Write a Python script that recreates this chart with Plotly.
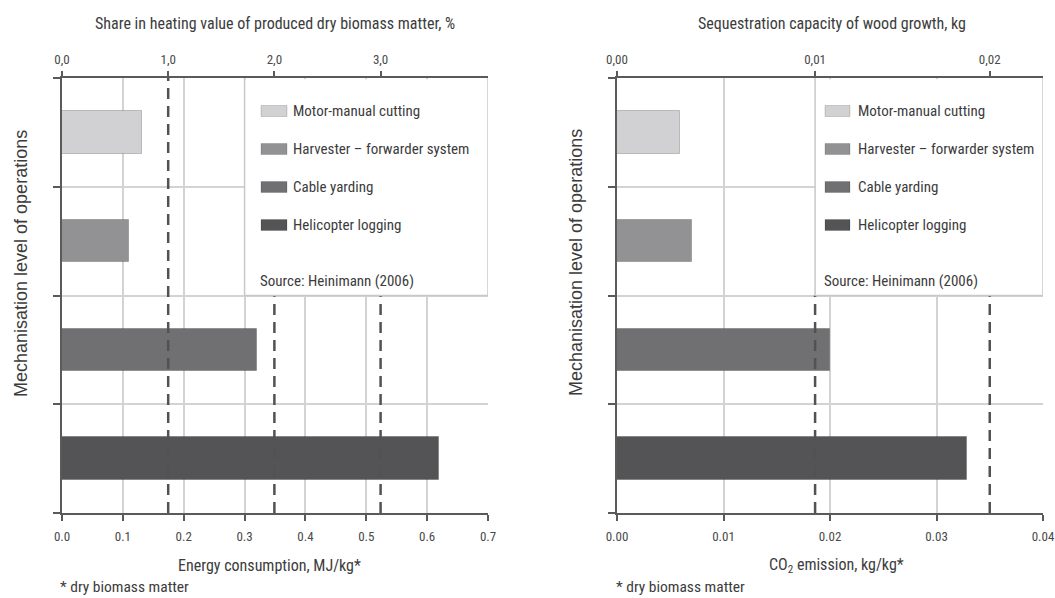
import plotly.graph_objects as go

# ---- data -------------------------------------------------------------
levels = [
    "Motor-manual cutting",
    "Harvester – forwarder system",
    "Cable yarding",
    "Helicopter logging",
]
energy_mj_per_kg = [0.131, 0.110, 0.320, 0.619]        # MJ per kg dry biomass
co2_kg_per_kg = [0.0059, 0.0070, 0.0200, 0.0329]       # kg CO2 per kg dry biomass
bar_colors = ["#d1d1d3", "#929294", "#707072", "#545456"]

# top axis of the energy panel: share of the heating value (%)
share_ticks_pct = [0, 1, 2, 3]
share_tick_text = ["0,0", "1,0", "2,0", "3,0"]
mj_per_share_pct = 0.1745                               # 1 % of heating value, MJ/kg

# top axis of the CO2 panel: sequestration capacity of wood growth (kg)
seq_tick_text = ["0,00", "0,01", "0,02"]
seq_tick_pos_co2 = [0.0, 0.0186, 0.0350]                # same points on the CO2 scale

energy_range = [0, 0.7]
co2_range = [0, 0.04]

# ---- styling ----------------------------------------------------------
W, H = 1055, 598
FONT = "Roboto Condensed, Liberation Sans Narrow, Arial Narrow, Roboto, sans-serif"
WIDE_FONT = "Liberation Sans, Arial, sans-serif"
TXT = "#3c3c3c"
AXIS = "#5a5a5a"
GRID = "#d3d3d3"
DASH = "#525252"


def px(x):
    return x / W


def py(y):
    return 1 - y / H


n = len(levels)
ypos = [n - 1 - i for i in range(n)]
y_bounds = [k - 0.5 for k in range(n + 1)]

fig = go.Figure()

fig.add_trace(go.Bar(
    x=energy_mj_per_kg, y=ypos, orientation="h", width=0.39,
    marker=dict(color=bar_colors, line=dict(color="rgba(0,0,0,0.2)", width=1)),
    xaxis="x", yaxis="y", showlegend=False, hoverinfo="x",
))
fig.add_trace(go.Bar(
    x=co2_kg_per_kg, y=ypos, orientation="h", width=0.39,
    marker=dict(color=bar_colors, line=dict(color="rgba(0,0,0,0.2)", width=1)),
    xaxis="x2", yaxis="y2", showlegend=False, hoverinfo="x",
))
# invisible carriers so the secondary (top) axes get drawn
fig.add_trace(go.Scatter(x=[0], y=[0], mode="markers", marker=dict(opacity=0),
                         xaxis="x3", yaxis="y", showlegend=False, hoverinfo="skip"))
fig.add_trace(go.Scatter(x=[0], y=[0], mode="markers", marker=dict(opacity=0),
                         xaxis="x4", yaxis="y2", showlegend=False, hoverinfo="skip"))

ydom = [py(513), py(78)]
xdom1 = [px(62), px(488)]
xdom2 = [px(617), px(1043)]

common_x = dict(
    showline=True, linecolor=AXIS, linewidth=2, mirror=False, automargin=False,
    ticks="outside", ticklen=6, tickwidth=1.5, tickcolor=AXIS,
    showgrid=True, gridcolor=GRID, gridwidth=1.5, zeroline=False,
    tickfont=dict(family=FONT, size=13, color="#4a4a4a"),
    ticklabelstandoff=4, fixedrange=True,
)
common_y = dict(
    showline=True, linecolor=AXIS, linewidth=2, automargin=False,
    ticks="outside", ticklen=7, tickwidth=1.5, tickcolor=AXIS,
    showgrid=True, gridcolor=GRID, gridwidth=1.5, zeroline=False,
    tickmode="array", tickvals=y_bounds, showticklabels=False,
    range=[-0.5, n - 0.5], fixedrange=True,
)
top_common = dict(
    showline=True, linecolor=AXIS, linewidth=2, side="top", automargin=False,
    ticks="outside", ticklen=5, tickwidth=1.5, tickcolor=AXIS,
    showgrid=False, zeroline=False, tickmode="array",
    tickfont=dict(family=FONT, size=13, color="#4a4a4a"),
    ticklabelstandoff=2, fixedrange=True,
)

fig.update_layout(
    width=W, height=H,
    margin=dict(l=0, r=0, t=0, b=0, autoexpand=False),
    paper_bgcolor="white", plot_bgcolor="white",
    font=dict(family=FONT, color=TXT),
    bargap=0,
    xaxis=dict(domain=xdom1, anchor="y", range=energy_range, dtick=0.1,
               tickformat=".1f", **common_x),
    yaxis=dict(domain=ydom, anchor="x", **common_y),
    xaxis2=dict(domain=xdom2, anchor="y2", range=co2_range, dtick=0.01,
                tickformat=".2f", **common_x),
    yaxis2=dict(domain=ydom, anchor="x2", **common_y),
    xaxis3=dict(overlaying="x", anchor="y", range=energy_range,
                tickvals=[p * mj_per_share_pct for p in share_ticks_pct],
                ticktext=share_tick_text, **top_common),
    xaxis4=dict(overlaying="x2", anchor="y2", range=co2_range,
                tickvals=seq_tick_pos_co2, ticktext=seq_tick_text, **top_common),
)

# legend panels: (x axis, y axis, left edge, right edge) in data units
legend_boxes = [("x", "y", 0.3, energy_range[1]),
                ("x2", "y2", seq_tick_pos_co2[1], co2_range[1])]
box_bottom = 1.5

shapes = []
# dashed reference lines at the top-axis ticks, hidden behind the legend panel
dash_sets = [("x", "y", [p * mj_per_share_pct for p in share_ticks_pct[1:]], legend_boxes[0][2]),
             ("x2", "y2", seq_tick_pos_co2[1:], legend_boxes[1][2])]
for xr, yr, xs, bx0 in dash_sets:
    for xv in xs:
        top = box_bottom if xv >= bx0 - 1e-9 else n - 0.5
        shapes.append(dict(type="line", xref=xr, yref=yr, x0=xv, x1=xv,
                           y0=-0.5, y1=top, layer="above",
                           line=dict(color=DASH, width=2.5, dash="11px,7px")))

for xr, yr, bx0, bx1 in legend_boxes:
    shapes.append(dict(type="rect", xref=xr, yref=yr, x0=bx0, x1=bx1,
                       y0=box_bottom, y1=n - 0.5 - 0.012, layer="above",
                       fillcolor="white", line=dict(width=0)))
    for seg in [(bx0, box_bottom, bx0, n - 0.5), (bx0, box_bottom, bx1, box_bottom),
                (bx1, box_bottom, bx1, n - 0.5)]:
        shapes.append(dict(type="line", xref=xr, yref=yr, x0=seg[0], y0=seg[1],
                           x1=seg[2], y1=seg[3], layer="above",
                           line=dict(color="#c8c8c8", width=1.5)))

annotations = []
row_y = [111, 149, 187, 225]
for sw_x0, sw_x1, txt_x in [(261, 287, 291), (825, 850, 856)]:
    for lvl, col, yy in zip(levels, bar_colors, row_y):
        shapes.append(dict(type="rect", xref="paper", yref="paper",
                           x0=px(sw_x0), x1=px(sw_x1), y0=py(yy + 5.5), y1=py(yy - 5.5),
                           fillcolor=col, line=dict(color="rgba(0,0,0,0.15)", width=1),
                           layer="above"))
        annotations.append(dict(x=px(txt_x), y=py(yy), xref="paper", yref="paper",
                                text=lvl, showarrow=False, xanchor="left", yanchor="middle",
                                font=dict(family=FONT, size=15, color=TXT)))
    annotations.append(dict(x=px(sw_x0 - 3), y=py(281), xref="paper", yref="paper",
                            text="Source: Heinimann (2006)", showarrow=False,
                            xanchor="left", yanchor="middle",
                            font=dict(family=FONT, size=15, color=TXT)))


# axis titles and footnotes
def label(x, y, text, anchor="center", angle=0, size=16, family=FONT):
    annotations.append(dict(x=px(x), y=py(y), xref="paper", yref="paper", text=text,
                            showarrow=False, xanchor=anchor, yanchor="middle",
                            textangle=angle, font=dict(family=family, size=size, color=TXT)))


label(275, 24, "Share in heating value of produced dry biomass matter, %")
label(832, 24, "Sequestration capacity of wood growth, kg")
label(269, 565, "Energy consumption, MJ/kg*")
label(836, 565, "CO<sub>2</sub> emission, kg/kg*")
label(58, 587, "* dry biomass matter", anchor="left", size=15.5)
label(614, 587, "* dry biomass matter", anchor="left", size=15.5)
label(21, 264, "Mechanisation level of operations", angle=-90, size=18, family=WIDE_FONT)
label(576, 263, "Mechanisation level of operations", angle=-90, size=18, family=WIDE_FONT)

fig.update_layout(shapes=shapes, annotations=annotations)

fig.write_html("out.html")
